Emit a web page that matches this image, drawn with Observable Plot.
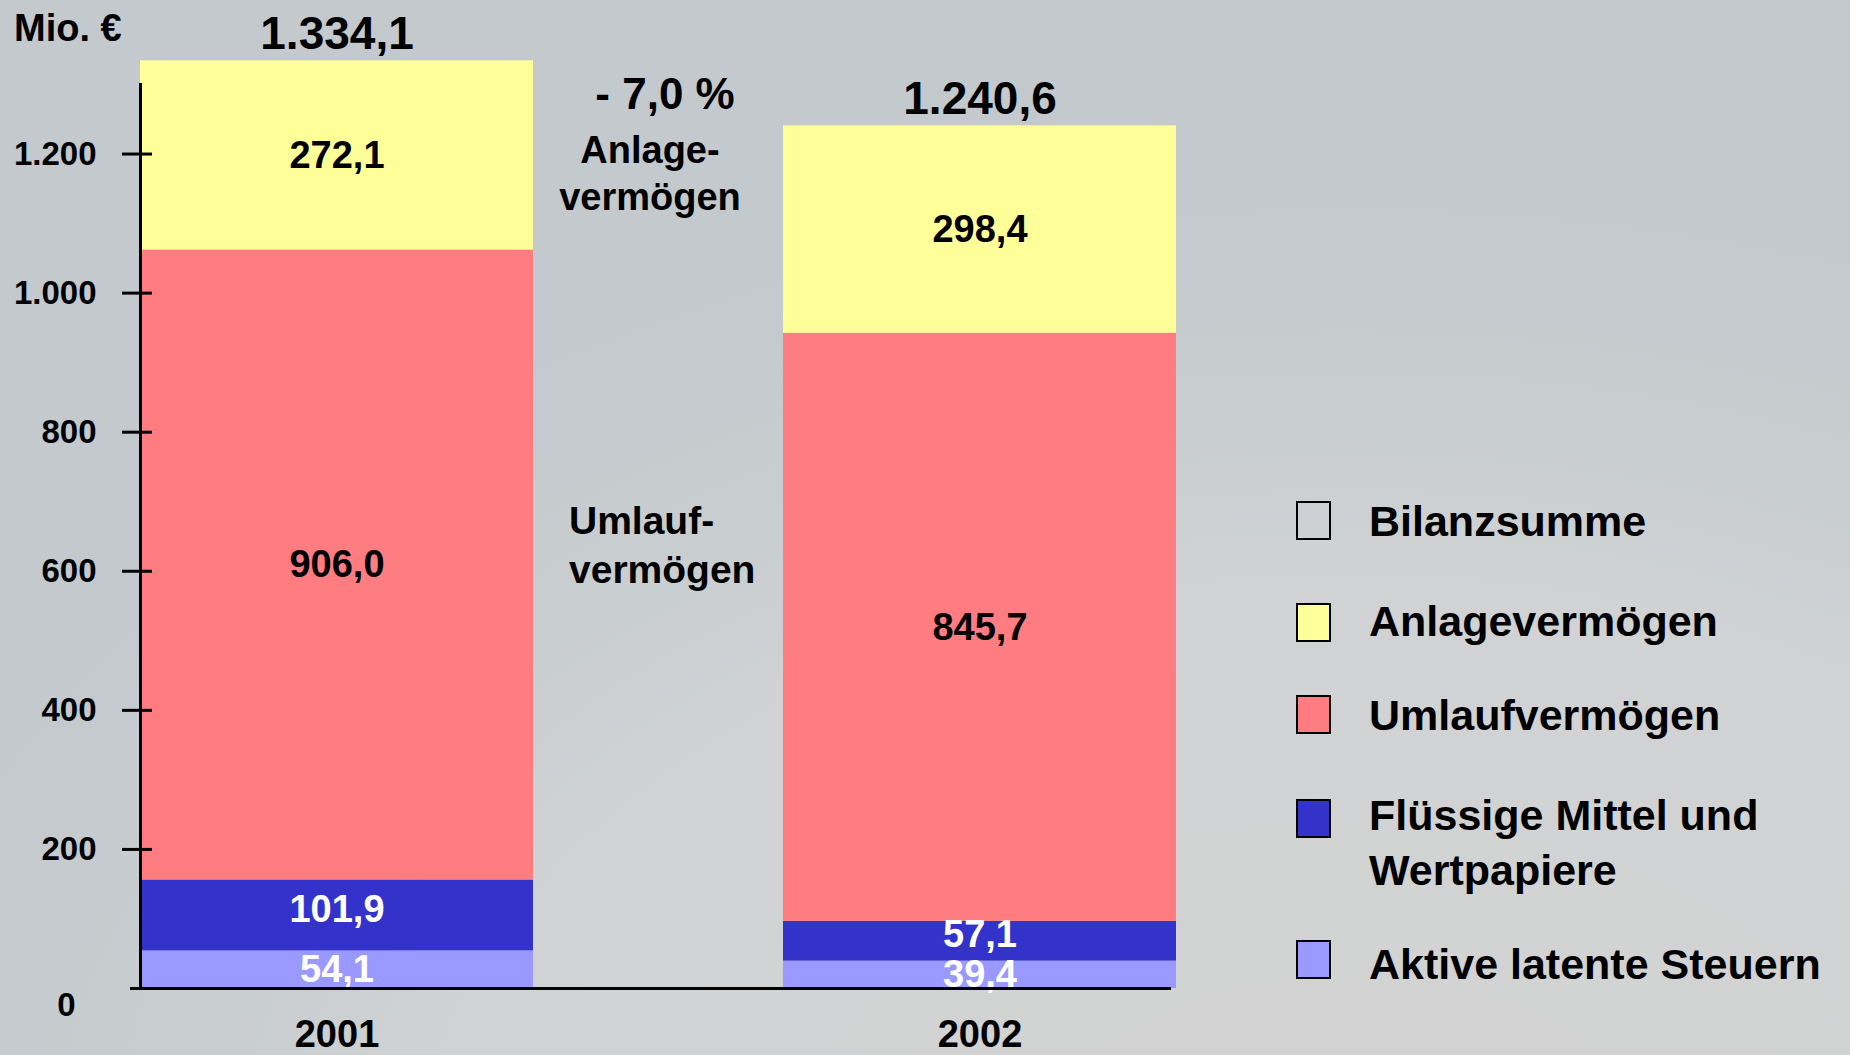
<!DOCTYPE html>
<html>
<head>
<meta charset="utf-8">
<script src="https://cdn.jsdelivr.net/npm/d3@7"></script>
<script src="https://cdn.jsdelivr.net/npm/@observablehq/plot@0.6"></script>
<style>
  html, body { margin: 0; padding: 0; }
  #wrap {
    position: relative; width: 1850px; height: 1055px; overflow: hidden;
    font-family: "Liberation Sans", Arial, sans-serif; font-weight: bold; color: #000;
    background:
      radial-gradient(ellipse 1500px 1000px at 1350px 1200px, #d3d3d3 0%, #d1d2d3 62%, #cbcfd1 72%, #c3c9cd 100%);
  }
  #chart { position: absolute; left: 0; top: 0; }
  .ann { position: absolute; white-space: nowrap; }
  .lg-box { position: absolute; width: 31px; height: 35px; border: 2px solid #000; }
  .lg-txt { position: absolute; font-size: 43px; line-height: 55px; white-space: nowrap; }
</style>
</head>
<body>
<div id="wrap">
  <div id="chart"></div>
  <div class="ann" style="left:14px; top:6px; font-size:38px; line-height:44px;">Mio. €</div>
  <div class="ann" style="left:665px; top:94px; transform:translate(-50%,-50%); font-size:44px; line-height:50px;">- 7,0 %</div>
  <div class="ann" style="left:650px; top:127px; transform:translateX(-50%); font-size:38px; line-height:47px; text-align:center;">Anlage-<br>vermögen</div>
  <div class="ann" style="left:569px; top:496px; font-size:39px; line-height:49px; text-align:left;">Umlauf-<br>vermögen</div>
  <div id="legend"></div>
</div>
<script>
// ---- data ----
const years = ["2001", "2002"];
const categories = ["Aktive latente Steuern", "Flüssige Mittel und Wertpapiere", "Umlaufvermögen", "Anlagevermögen"];
const aktiveLatenteSteuern = [54.1, 39.4];
const fluessigeMittel = [101.9, 57.1];
const umlaufvermoegen = [906.0, 845.7];
const anlagevermoegen = [272.1, 298.4];
const bilanzsumme = [1334.1, 1240.6];
const yTicks = [200, 400, 600, 800, 1000, 1200];
const colors = ["#9999ff", "#3333cc", "#ff7c80", "#ffff99"];
const legendItems = ["Bilanzsumme", "Anlagevermögen", "Umlaufvermögen", "Flüssige Mittel und<br>Wertpapiere", "Aktive latente Steuern"];
const legendColors = ["none", "#ffff99", "#ff7c80", "#3333cc", "#9999ff"];

// ---- build table ----
const series = [aktiveLatenteSteuern, fluessigeMittel, umlaufvermoegen, anlagevermoegen];
const rows = [];
years.forEach((yr, i) => categories.forEach((c, j) => rows.push({year: yr, cat: c, value: series[j][i], ci: j})));
const totals = years.map((yr, i) => ({year: yr, total: bilanzsumme[i]}));

const de = d3.formatLocale({decimal: ",", thousands: ".", grouping: [3], currency: ["", " €"]});
const f1 = de.format(",.1f");
const fInt = de.format(",d");

const stackLabel = (pick, fill, dy) => Plot.text(rows, Plot.stackY({
  x: "year", y: "value", z: "cat", order: categories,
  text: d => pick(d.ci) ? f1(d.value) : null, fill, dy, fontSize: 38, fontWeight: "bold"
}));

const chart = Plot.plot({
  width: 1850,
  height: 1055,
  marginLeft: 140,
  marginRight: 674,
  marginTop: 84,
  marginBottom: 67,
  style: {background: "transparent", fontFamily: "'Liberation Sans', Arial, sans-serif", fontWeight: "bold", color: "#000", overflow: "visible"},
  x: {domain: years, paddingInner: 0.389, paddingOuter: 0},
  y: {domain: [0, 1300]},
  color: {domain: categories, range: colors},
  marks: [
    Plot.barY(rows, {x: "year", y: "value", fill: "cat", order: categories}),
    stackLabel(ci => ci === 0, "#ffffff", 0),
    stackLabel(ci => ci === 1, "#ffffff", -6),
    stackLabel(ci => ci >= 2, "#000000", 0),
    Plot.text(totals, {x: "year", y: "total", text: d => f1(d.total), lineAnchor: "bottom", dy: -12, fontSize: 46, fontWeight: "bold", fill: "#000"}),
    Plot.frame({anchor: "left", stroke: "#000", strokeWidth: 3}),
    Plot.ruleY([0], {stroke: "#000", strokeWidth: 3, insetLeft: -10, insetRight: 5}),
    Plot.axisY({ticks: yTicks, tickSize: 30, dx: 12, tickFormat: () => "", label: null, strokeWidth: 3}),
    Plot.axisY({ticks: yTicks, tickSize: 0, tickPadding: 44, tickFormat: fInt, label: null, fontSize: 33, fontWeight: "bold"}),
    Plot.axisY({ticks: [0], tickSize: 0, tickPadding: 65, dy: 17, tickFormat: fInt, label: null, fontSize: 33, fontWeight: "bold"}),
    Plot.axisX({tickSize: 0, tickPadding: 32, label: null, fontSize: 38, fontWeight: "bold"})
  ]
});
document.getElementById("chart").appendChild(chart);

// ---- legend ----
const legendBoxCenters = [520, 622, 714, 818, 959];
const legendTextTops = [494, 594, 688, 788, 937];
const lg = document.getElementById("legend");
legendItems.forEach((t, i) => {
  const b = document.createElement("div");
  b.className = "lg-box";
  b.style.left = "1296px";
  b.style.top = (legendBoxCenters[i] - 19) + "px";
  b.style.background = legendColors[i] === "none" ? "transparent" : legendColors[i];
  lg.appendChild(b);
  const s = document.createElement("div");
  s.className = "lg-txt";
  s.style.left = "1369px";
  s.style.top = legendTextTops[i] + "px";
  s.innerHTML = t;
  lg.appendChild(s);
});
</script>
</body>
</html>
